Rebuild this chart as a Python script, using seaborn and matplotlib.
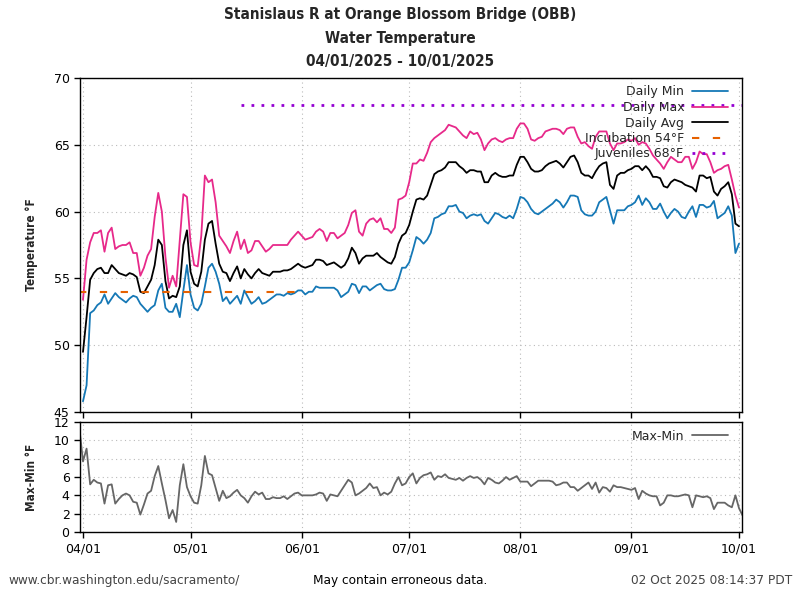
import pandas as pd
import matplotlib
matplotlib.use("Agg")
import matplotlib.pyplot as plt
import matplotlib.dates as mdates
from matplotlib import font_manager
import seaborn as sns

# daily water temperature (deg F), one value per day 04/01/2025 .. 10/01/2025
daily_min = [
    45.8, 47.0, 52.4, 52.6, 53.0, 53.2, 53.8, 53.1, 53.5, 53.9,
    53.6, 53.4, 53.2, 53.5, 53.7, 53.6, 53.1, 52.8, 52.5, 52.8,
    53.0, 54.1, 54.6, 52.8, 52.5, 52.5, 53.1, 52.1, 54.1, 56.0,
    53.8, 52.8, 52.6, 53.1, 54.4, 55.8, 56.1, 55.5, 54.6, 53.3,
    53.6, 53.1, 53.4, 53.7, 53.1, 54.1, 53.6, 53.1, 53.3, 53.6,
    53.1, 53.2, 53.4, 53.6, 53.8, 53.8, 53.7, 53.9, 53.8, 53.9,
    54.1, 54.1, 53.8, 54.0, 54.0, 54.4, 54.3, 54.3, 54.3, 54.3,
    54.3, 54.1, 53.6, 53.8, 54.0, 54.6, 54.5, 53.9, 54.4, 54.4,
    54.1, 54.3, 54.5, 54.6, 54.2, 54.1, 54.1, 54.2, 54.9, 55.8,
    55.8, 56.2, 57.1, 58.1, 57.9, 57.6, 57.9, 58.4, 59.5, 59.6,
    59.8, 59.9, 60.4, 60.4, 60.5, 60.0, 59.9, 59.5, 59.7, 59.8,
    59.7, 59.8, 59.3, 59.1, 59.5, 59.9, 59.8, 59.6, 59.5, 59.7,
    59.5, 60.2, 61.1, 61.0, 60.7, 60.2, 59.9, 59.8, 60.0, 60.2,
    60.4, 60.6, 60.9, 60.7, 60.3, 60.7, 61.2, 61.2, 61.1, 60.1,
    59.8, 59.7, 59.7, 60.0, 60.7, 60.9, 61.1, 60.1, 59.1, 60.1,
    60.1, 60.1, 60.4, 60.5, 60.7, 61.2, 60.5, 61.0, 60.7, 60.2,
    60.2, 60.6, 60.0, 59.5, 59.9, 60.2, 60.0, 59.6, 59.5, 60.0,
    60.4, 59.6, 60.5, 60.5, 60.3, 60.4, 60.8, 59.5, 59.7, 59.9,
    60.4, 59.7, 56.9, 57.6,
]
daily_max = [
    53.4, 56.4, 57.7, 58.4, 58.4, 58.6, 57.0, 58.4, 58.8, 57.2,
    57.4, 57.5, 57.5, 57.7, 56.9, 56.9, 55.2, 55.8, 56.7, 57.2,
    59.6, 61.4, 60.0, 56.6, 54.3, 55.2, 54.4, 57.9, 61.3, 61.1,
    57.7, 56.0, 55.9, 58.2, 62.7, 62.2, 62.4, 60.7, 58.2, 57.8,
    57.4, 56.9, 57.8, 58.5, 57.2, 57.9, 56.9, 57.1, 57.8, 57.8,
    57.4, 57.0, 57.2, 57.5, 57.5, 57.5, 57.5, 57.5, 57.9, 58.2,
    58.5, 58.2, 57.9, 58.0, 58.1, 58.5, 58.7, 58.5, 57.8, 58.4,
    58.4, 58.0, 58.2, 58.4, 59.0, 59.9, 60.1, 58.5, 58.2, 59.1,
    59.4, 59.5, 59.2, 59.5, 58.7, 58.7, 58.4, 58.8, 60.9, 61.0,
    61.2, 62.2, 63.6, 63.6, 63.9, 63.8, 64.4, 65.2, 65.5, 65.7,
    65.9, 66.1, 66.5, 66.4, 66.3, 66.0, 65.7, 65.5, 66.0, 65.8,
    65.9, 65.4, 64.6, 65.1, 65.4, 65.5, 65.3, 65.2, 65.4, 65.5,
    65.5, 66.2, 66.6, 66.6, 66.2, 65.4, 65.3, 65.5, 65.6, 66.0,
    66.1, 66.2, 66.2, 66.1, 65.8, 66.2, 66.3, 66.3, 65.6, 65.1,
    65.2, 64.9, 64.7, 65.6, 66.0, 66.0, 66.0, 65.1, 64.6, 65.1,
    65.1, 65.2, 65.4, 65.3, 65.5, 65.0, 65.2, 65.1, 64.7, 64.2,
    63.9, 63.6, 63.2, 63.7, 64.1, 63.9, 63.7, 63.7, 64.1, 64.1,
    63.2, 63.7, 64.5, 64.3, 64.3, 63.7, 62.9, 63.1, 63.2, 63.4,
    63.5, 62.4, 61.2, 60.3,
]
daily_avg = [
    49.5, 52.1, 54.9, 55.4, 55.7, 55.8, 55.4, 55.4, 56.0, 55.7,
    55.4, 55.3, 55.2, 55.4, 55.3, 55.1, 54.0, 53.9, 54.4, 54.9,
    56.0, 57.9, 57.5, 54.8, 53.5, 53.7, 53.6, 54.4, 57.5, 58.6,
    55.5, 54.6, 54.4, 55.5, 57.9, 59.1, 59.3, 57.6, 56.1, 55.5,
    55.4, 54.8, 55.4, 55.9, 55.0, 55.7, 55.3, 55.0, 55.4, 55.7,
    55.4, 55.3, 55.2, 55.5, 55.5, 55.5, 55.6, 55.6, 55.7, 55.9,
    56.1, 55.9, 55.8, 55.9, 56.0, 56.4, 56.4, 56.3, 56.0, 56.1,
    56.2, 56.0, 55.8, 56.0, 56.5, 57.3, 56.9, 56.1, 56.5, 56.7,
    56.7, 56.7, 56.9, 56.6, 56.4, 56.2, 56.1, 56.6, 57.6, 58.2,
    58.4, 59.0, 60.0, 60.9, 61.0, 60.9, 61.2, 62.0, 62.8, 63.0,
    63.1, 63.3, 63.7, 63.7, 63.7, 63.4, 63.2, 62.9, 63.1, 63.1,
    63.0, 63.0, 62.2, 62.2, 62.7, 62.9, 62.7, 62.6, 62.6, 62.7,
    62.7, 63.5, 64.1, 64.1, 63.7, 63.2, 63.0, 63.0, 63.1, 63.4,
    63.6, 63.7, 63.8, 63.6, 63.3, 63.7, 64.1, 64.2, 63.7, 62.9,
    62.7, 62.7, 62.5, 63.0, 63.4, 63.6, 63.7, 62.0, 61.7, 62.7,
    62.9, 62.9, 63.1, 63.2, 63.4, 63.4, 63.1, 63.4, 63.1, 62.6,
    62.6, 62.5, 61.9, 61.8, 62.2, 62.4, 62.3, 62.2, 62.0, 61.9,
    61.8, 61.5, 62.7, 62.7, 62.5, 62.6, 61.5, 61.2, 61.7, 61.9,
    62.2, 61.3, 59.1, 58.9,
]
# daily max-min spread, 03/31/2025 .. 10/02/2025 (ends are cut by the axes)
max_min = [
    11.3,
    7.7, 9.1, 5.2, 5.7, 5.4, 5.3, 3.1, 5.1, 5.2, 3.1,
    3.6, 4.0, 4.2, 4.0, 3.3, 3.2, 1.9, 3.0, 4.2, 4.5,
    6.1, 7.2, 5.3, 3.5, 1.5, 2.4, 1.1, 5.1, 7.4, 4.9,
    3.9, 3.2, 3.1, 5.1, 8.3, 6.4, 6.2, 4.8, 3.4, 4.5,
    3.7, 3.9, 4.3, 4.6, 4.0, 3.7, 3.2, 3.9, 4.4, 4.1,
    4.3, 3.6, 3.6, 3.8, 3.7, 3.7, 3.9, 3.6, 3.9, 4.2,
    4.3, 4.0, 4.0, 4.0, 4.0, 4.1, 4.3, 4.2, 3.4, 4.1,
    4.0, 3.9, 4.5, 5.1, 5.7, 5.4, 4.0, 4.2, 4.5, 4.8,
    5.3, 4.8, 4.9, 4.0, 4.3, 4.1, 4.4, 5.3, 6.0, 5.1,
    5.3, 6.0, 6.4, 5.3, 5.9, 6.2, 6.3, 6.5, 5.7, 6.1,
    6.0, 6.3, 5.9, 5.8, 5.7, 5.9, 5.6, 5.9, 6.1, 5.9,
    6.0, 5.7, 5.2, 5.9, 5.7, 5.4, 5.3, 5.6, 6.0, 5.7,
    5.9, 6.1, 5.5, 5.5, 5.5, 5.0, 5.3, 5.6, 5.6, 5.6,
    5.6, 5.5, 5.1, 5.2, 5.4, 5.4, 4.9, 4.9, 4.5, 4.8,
    5.1, 5.4, 4.7, 5.4, 4.3, 4.9, 4.8, 4.4, 5.1, 4.9,
    4.9, 4.8, 4.7, 4.6, 4.8, 3.6, 4.5, 4.2, 4.0, 3.9,
    3.9, 2.9, 3.2, 4.0, 4.0, 3.9, 3.9, 4.0, 4.1, 4.0,
    2.7, 4.0, 3.9, 3.8, 3.9, 3.7, 2.5, 3.2, 3.2, 3.2,
    2.9, 2.7, 4.0, 2.6, 1.8,
]

incubation_temp = 54
incubation_span = ["2025-03-31", "2025-05-31"]
juvenile_temp = 68
juvenile_span = ["2025-05-15", "2025-10-02"]

series_labels = ["Daily Min", "Daily Max", "Daily Avg", "Incubation 54°F", "Juveniles 68°F"]
title_lines = ["Stanislaus R at Orange Blossom Bridge (OBB)", "Water Temperature", "04/01/2025 - 10/01/2025"]
footer = ["www.cbr.washington.edu/sacramento/", "May contain erroneous data.", "02 Oct 2025 08:14:37 PDT"]

sns.set_theme(style="ticks")
plt.rcParams["font.family"] = ["DejaVu Sans"]

# narrow face for title / footer if there is one
narrow = {"family": "DejaVu Sans", "stretch": "condensed"}
if "Condensed" not in font_manager.findfont(font_manager.FontProperties(**narrow)):
    narrow = {"family": "Liberation Sans Narrow"}

days = pd.date_range("2025-04-01", periods=len(daily_avg), freq="D")
temps = pd.DataFrame({"date": days, "min": daily_min, "max": daily_max, "avg": daily_avg})
spread = pd.DataFrame({"date": pd.date_range("2025-03-31", periods=len(max_min), freq="D"),
                       "diff": max_min})
incub = pd.DataFrame({"date": pd.to_datetime(incubation_span), "temp": incubation_temp})
juv = pd.DataFrame({"date": pd.to_datetime(juvenile_span), "temp": juvenile_temp})

fig = plt.figure(figsize=(8, 6), dpi=100)
ax = fig.add_axes([0.1, 0.3133, 0.8275, 0.5567])
ax2 = fig.add_axes([0.1, 0.1133, 0.8275, 0.1833], sharex=ax)

sns.lineplot(data=temps, x="date", y="min", ax=ax, color="#1578b6", lw=1.3, label=series_labels[0], errorbar=None)
sns.lineplot(data=temps, x="date", y="max", ax=ax, color="#e7298a", lw=1.3, label=series_labels[1], errorbar=None)
sns.lineplot(data=temps, x="date", y="avg", ax=ax, color="black", lw=1.3, label=series_labels[2], errorbar=None)
sns.lineplot(data=incub, x="date", y="temp", ax=ax, color="#e66100", lw=1.5,
             linestyle=(0, (3.5, 6.5)), label=series_labels[3], errorbar=None)
sns.lineplot(data=juv, x="date", y="temp", ax=ax, color="#9400d3", lw=2,
             linestyle=(0, (1, 2.6)), label=series_labels[4], errorbar=None)

sns.lineplot(data=spread, x="date", y="diff", ax=ax2, color="#666666", lw=1.3, label="Max-Min", errorbar=None)

ax.set_xlim(pd.Timestamp("2025-04-01") - pd.Timedelta(hours=20),
            pd.Timestamp("2025-10-01") + pd.Timedelta(hours=20))
ax.set_ylim(45, 70)
ax.set_yticks(range(45, 71, 5))
ax2.set_ylim(0, 12)
ax2.set_yticks(range(0, 13, 2))
ax2.xaxis.set_major_locator(mdates.MonthLocator())
ax2.xaxis.set_major_formatter(mdates.DateFormatter("%m/%d"))
ax.tick_params(labelbottom=False)

for a in (ax, ax2):
    a.grid(True, color="#bbbbbb", linestyle=(0, (1, 3)), linewidth=0.8)
    a.tick_params(direction="out", length=4, width=1, colors="black", labelsize=9)
    for s in a.spines.values():
        s.set_color("black")
        s.set_linewidth(1)
    a.set_xlabel("")

ax.set_ylabel("Temperature °F", fontsize=8.5, fontweight="bold", **narrow)
ax2.set_ylabel("Max-Min °F", fontsize=8.5, fontweight="bold", **narrow)
ax.yaxis.set_label_coords(-0.064, 0.5)
ax2.yaxis.set_label_coords(-0.064, 0.5)

leg_kw = dict(loc="upper right", bbox_to_anchor=(0.99, 1.0), frameon=False, markerfirst=False,
              fontsize=9, labelspacing=0.2, handlelength=2.9, handletextpad=0.6, borderaxespad=0.2)
ax.legend(**leg_kw)
ax2.legend(**leg_kw)

for i, line in enumerate(title_lines):
    fig.text(0.5, 0.975 - i * 0.0385, line, ha="center", va="center",
             fontsize=11, fontweight="bold", **narrow)

fig.text(0.01, 0.0317, footer[0], ha="left", va="center", fontsize=9.7, color="#444444", **narrow)
fig.text(0.5, 0.0317, footer[1], ha="center", va="center", fontsize=9.7, color="black", **narrow)
fig.text(0.99, 0.0317, footer[2], ha="right", va="center", fontsize=9.7, color="#444444", **narrow)

fig.savefig("out.png", dpi=100)
